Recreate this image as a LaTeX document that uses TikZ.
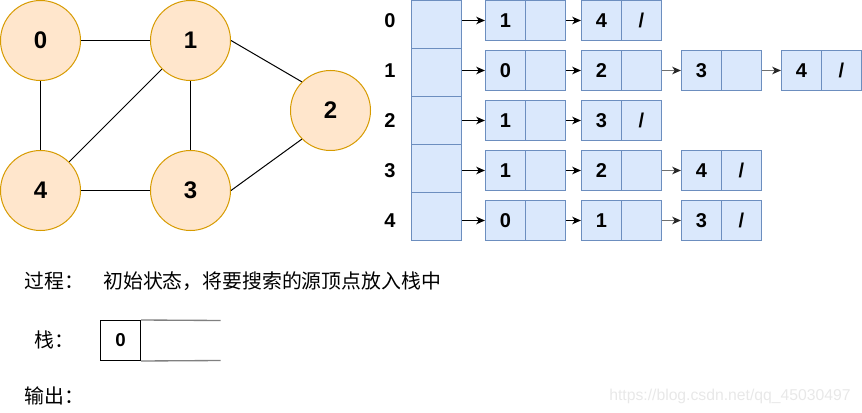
\documentclass[tikz,border=0pt]{standalone}
\usepackage{fontspec}
\setmainfont{Liberation Sans}
\newfontfamily\cjk{Noto Sans CJK SC}
\usetikzlibrary{arrows.meta}
\definecolor{orfill}{HTML}{FFE6CC}
\definecolor{ordraw}{HTML}{D79B00}
\definecolor{blfill}{HTML}{DAE8FC}
\definecolor{bldraw}{HTML}{6C8EBF}
\definecolor{arrgray}{HTML}{707070}
\definecolor{stkgray}{HTML}{808080}
\definecolor{wmark}{HTML}{E8E8E8}
\newcommand\circfnt{\fontsize{18pt}{18pt}\selectfont\bfseries}
\newcommand\listfnt{\fontsize{15pt}{15pt}\selectfont\bfseries}
\newcommand\cjkfnt{\cjk\fontsize{14.9pt}{14.9pt}\selectfont}
\tikzset{
  vertex/.style={circle,draw=ordraw,fill=orfill,line width=0.75pt,minimum size=60pt,inner sep=0pt,font=\circfnt},
  edge/.style={line width=0.75pt,black},
  arrcell/.style={rectangle,draw=bldraw,fill=blfill,line width=0.75pt,minimum width=37.5pt,minimum height=36pt,inner sep=0pt},
  lcell/.style={rectangle,draw=bldraw,fill=blfill,line width=0.75pt,minimum width=30pt,minimum height=30pt,inner sep=0pt,font=\listfnt},
  rowlab/.style={inner sep=0pt,font=\listfnt},
  blkarrow/.style={line width=1.1pt,black,-{Stealth[length=6.5pt,width=5.5pt,inset=1.8pt]}},
  gryarrow/.style={line width=1.4pt,arrgray,-{Stealth[length=6.5pt,width=5.5pt,inset=1.8pt,color=black!85]}},
  cjktext/.style={inner sep=0pt,anchor=west,font=\cjkfnt},
  stkcell/.style={rectangle,draw=black,line width=0.75pt,minimum size=30pt,inner sep=0pt,font=\fontsize{14pt}{14pt}\selectfont\bfseries},
  stkline/.style={line width=1pt,stkgray},
}
\begin{document}
\begin{tikzpicture}[x=0.75pt,y=-0.75pt]
\useasboundingbox (0,0) rectangle (862,413);
% graph
\node[vertex] (n0) at (40.5,40.5) {0};
\node[vertex] (n1) at (190.5,40.5) {1};
\node[vertex] (n2) at (330.5,110.5) {2};
\node[vertex] (n4) at (40.5,190.5) {4};
\node[vertex] (n3) at (190.5,190.5) {3};
\draw[edge] (n0.east) -- (n1.west);
\draw[edge] (n0.south) -- (n4.north);
\draw[edge] (n1.south) -- (n3.north);
\draw[edge] (n4.east) -- (n3.west);
\draw[edge] (n1.south west) -- (n4.north east);
\draw[edge] (n1.east) -- (n2.north west);
\draw[edge] (n3.east) -- (n2.south west);
% array
\foreach \r in {0,...,4} {
  \node[arrcell] (a\r) at (436.5,{24.5+48*\r}) {};
  \node[rowlab] (r\r) at (390,{20.5+50*\r}) {\r};
}
% lists
\foreach \r/\n/\vals in {0/2/{1,4}, 1/4/{0,2,3,4}, 2/2/{1,3}, 3/3/{1,2,4}, 4/3/{0,1,3}} {
  \foreach \v [count=\k] in \vals {
    \pgfmathsetmacro\xl{\k==1 ? 485.5 : 581.5+100*(\k-2)}
    \pgfmathtruncatemacro\km{\k-1}
    \node[lcell] (L\r-\k-v) at ({\xl+20},{20.5+50*\r}) {\v};
    \node[lcell] (L\r-\k-p) at ({\xl+60},{20.5+50*\r}) {\ifnum\k=\n /\fi};
    \ifnum\k=1
      \draw[blkarrow] (a\r.east |- L\r-\k-v.west) -- (L\r-\k-v.west);
    \else
      \ifnum\k=2
        \draw[blkarrow] (L\r-\km-p.east) -- (L\r-\k-v.west);
      \else
        \draw[gryarrow] (L\r-\km-p.east) -- (L\r-\k-v.west);
      \fi
    \fi
  }
}
% bottom texts
\node[cjktext] (t1) at (24,281) {过程：};
\node[cjktext] (t2) at (103,281) {初始状态，将要搜索的源顶点放入栈中};
\node[cjktext] (t3) at (34,340) {栈：};
\node[cjktext] (t4) at (24,396) {输出：};
% stack
\node[stkcell] (s0) at (120.5,340.5) {0};
\coordinate (stop) at (220.5,320.5);
\coordinate (sbot) at (220.5,360.5);
\draw[stkline] (s0.north east) -- (stop);
\draw[stkline] (s0.south east) -- (sbot);
% watermark
\node[inner sep=0pt,anchor=base west,text=wmark,font=\fontsize{11.8pt}{11.8pt}\selectfont] (wm) at (609,400) {https://blog.csdn.net/qq\_45030497};
\end{tikzpicture}
\end{document}
